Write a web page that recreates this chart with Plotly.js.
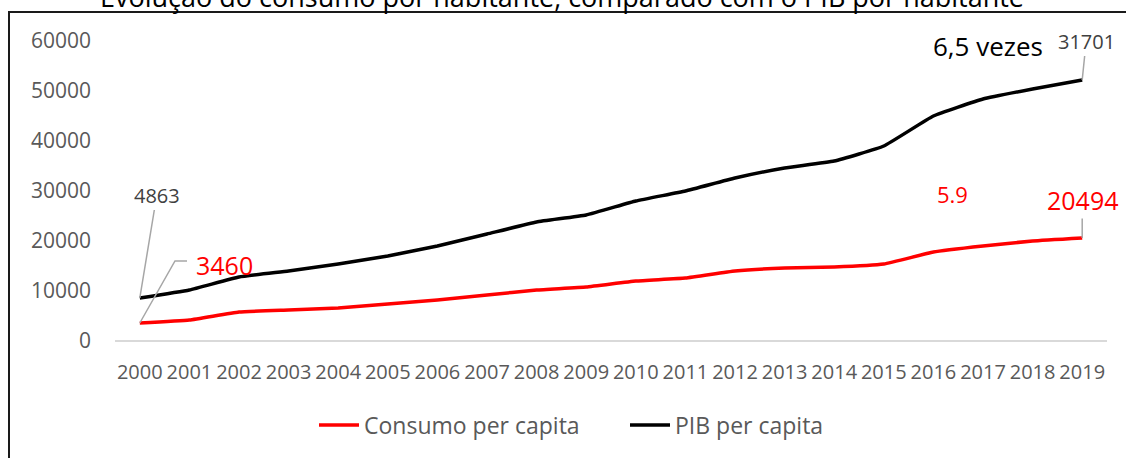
<!DOCTYPE html>
<html>
<head>
<meta charset="utf-8">
<script src="https://cdn.plot.ly/plotly-3.0.1.min.js"></script>
<style>html,body{margin:0;padding:0;background:#fff;}#chart{width:1126px;height:458px;}</style>
</head>
<body>
<div id="chart"></div>
<script>
var years = ["2000","2001","2002","2003","2004","2005","2006","2007","2008","2009","2010","2011","2012","2013","2014","2015","2016","2017","2018","2019"];
var consumo = [3600, 4200, 5800, 6200, 6600, 7400, 8200, 9200, 10200, 10800, 12000, 12600, 14000, 14600, 14800, 15400, 17800, 19000, 20000, 20600];
var pib = [8600, 10200, 12800, 14000, 15400, 17000, 19000, 21400, 23800, 25200, 28000, 30000, 32600, 34600, 36000, 39000, 45000, 48400, 50400, 52200];
var seriesNames = ["Consumo per capita", "PIB per capita"];
var labelPibStart = "4863", labelPibEnd = "31701";
var labelConsStart = "3460", labelConsEnd = "20494";
var ratioPib = "6,5 vezes", ratioCons = "5.9";
var titleText = "Evolução do consumo por habitante, comparado com o PIB por habitante";

var W = 1126, H = 458;
var M = {l:115, r:19, t:41, b:117};
var PW = W - M.l - M.r, PH = H - M.t - M.b;
function px(x){ return (x - M.l) / PW; }
function py(y){ return (H - M.b - y) / PH; }
var YMAX = 60000;
function idxPaper(i){ return (i + 0.5) / years.length; }

var FONT = "Open Sans, Noto Sans, sans-serif";
var traces = [
  {x: years, y: consumo, name: seriesNames[0], type: "scatter", mode: "lines",
   line: {color: "#ff0000", width: 3.5, shape: "spline", smoothing: 0.35}},
  {x: years, y: pib, name: seriesNames[1], type: "scatter", mode: "lines",
   line: {color: "#000000", width: 3.5, shape: "spline", smoothing: 0.35}}
];

var last = years.length - 1;
var layout = {
  width: W, height: H,
  margin: M,
  paper_bgcolor: "#ffffff", plot_bgcolor: "#ffffff",
  font: {family: FONT, color: "#595959"},
  showlegend: true,
  legend: {orientation: "h", x: px(314), xanchor: "left", y: py(425), yanchor: "middle",
           entrywidth: 256, entrywidthmode: "pixels",
           font: {size: 23, color: "#595959", family: FONT}, itemwidth: 40, tracegroupgap: 0},
  xaxis: {type: "category", range: [-0.5, years.length - 0.5], showgrid: false, zeroline: false,
          showline: false, ticks: "", tickfont: {size: 20, color: "#595959", family: FONT},
          ticklabelstandoff: 17, fixedrange: true},
  yaxis: {range: [0, YMAX], dtick: 10000, showgrid: false, zeroline: true, zerolinecolor: "#d9d9d9",
          zerolinewidth: 1.5, showline: false, ticks: "", tickformat: "d",
          tickfont: {size: 21, color: "#595959", family: FONT}, ticklabelstandoff: 23, fixedrange: true},
  shapes: [
    {type: "path", xref: "paper", yref: "paper",
     path: "M " + px(9) + "," + py(480) + " L " + px(9) + "," + py(12) + " L " + px(1160) + "," + py(12),
     line: {color: "#1a1a1a", width: 2}},
    {type: "path", xref: "paper", yref: "paper",
     path: "M " + idxPaper(0) + "," + (consumo[0] / YMAX) + " L " + px(175) + "," + py(261) + " L " + px(187) + "," + py(261),
     line: {color: "#a6a6a6", width: 1.5}}
  ],
  annotations: [
    {xref: "paper", yref: "paper", x: px(562), y: py(-3), text: titleText, showarrow: false,
     xanchor: "center", yanchor: "middle", font: {size: 27, color: "#000000", family: FONT}},
    {x: 0, y: pib[0], xref: "x", yref: "y", text: labelPibStart, showarrow: true, arrowhead: 0,
     arrowwidth: 1.5, arrowcolor: "#a6a6a6", ax: 17, ay: -103, font: {size: 20, color: "#404040", family: FONT}},
    {xref: "paper", yref: "paper", x: px(224), y: py(265), text: labelConsStart, showarrow: false,
     xanchor: "center", yanchor: "middle", font: {size: 25, color: "#ff0000", family: FONT}},
    {x: last, y: pib[last], xref: "x", yref: "y", text: labelPibEnd, showarrow: true, arrowhead: 0,
     arrowwidth: 1.5, arrowcolor: "#a6a6a6", ax: 4, ay: -39, font: {size: 20, color: "#404040", family: FONT}},
    {x: last, y: consumo[last], xref: "x", yref: "y", text: labelConsEnd, showarrow: true, arrowhead: 0,
     arrowwidth: 1.5, arrowcolor: "#a6a6a6", ax: 0, ay: -38, font: {size: 25, color: "#ff0000", family: FONT}},
    {xref: "paper", yref: "paper", x: px(988), y: py(46), text: ratioPib, showarrow: false,
     xanchor: "center", yanchor: "middle", font: {size: 26, color: "#000000", family: FONT}},
    {xref: "paper", yref: "paper", x: px(952), y: py(194), text: ratioCons, showarrow: false,
     xanchor: "center", yanchor: "middle", font: {size: 22, color: "#ff0000", family: FONT}}
  ]
};

Plotly.newPlot("chart", traces, layout, {displayModeBar: false, staticPlot: true});
</script>
</body>
</html>
